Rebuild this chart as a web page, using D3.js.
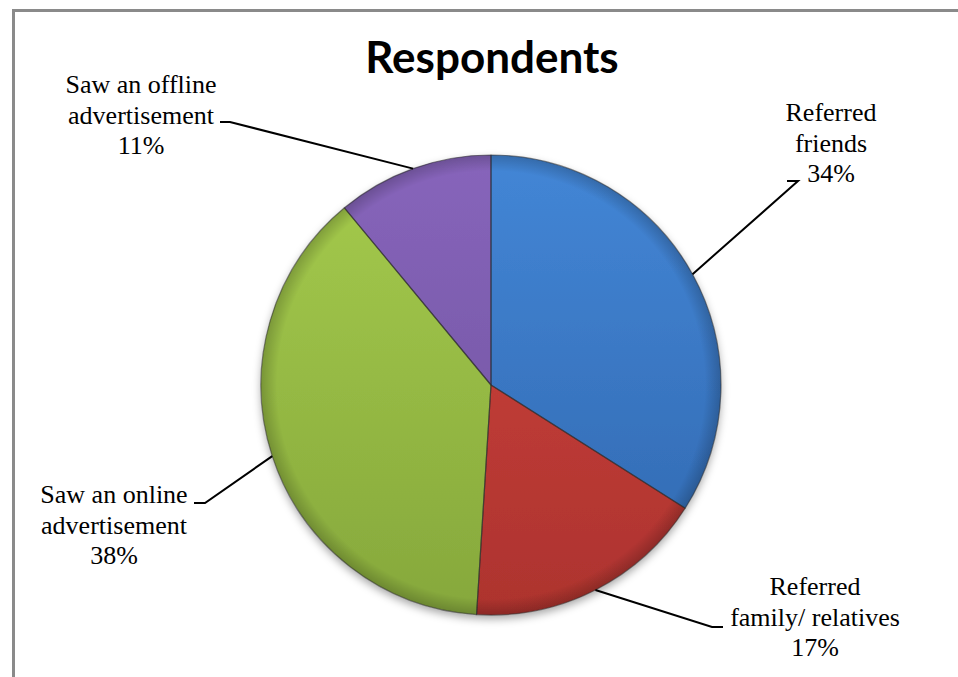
<!DOCTYPE html>
<html>
<head>
<meta charset="utf-8">
<script src="https://cdn.jsdelivr.net/npm/d3@7"></script>
<style>
  html, body { margin: 0; padding: 0; background: #fff; }
  svg { display: block; }
  .lbl { font-family: "Liberation Serif", "Times New Roman", Tinos, "DejaVu Serif", serif; font-size: 26px; }
  .ttl { font-family: Lato, "Open Sans", sans-serif; font-weight: 700; font-size: 44px; }
</style>
</head>
<body>
<svg id="chart" width="958" height="677"></svg>
<script>
// Survey: how respondents heard about us
const categories = [
  "Referred friends",
  "Referred family/ relatives",
  "Saw an online advertisement",
  "Saw an offline advertisement"
];
const values = [34, 17, 38, 11];
// label lines as they wrap inside each data label
const labelLines = [
  ["Referred", "friends", "34%"],
  ["Referred", "family/ relatives", "17%"],
  ["Saw an online", "advertisement", "38%"],
  ["Saw an offline", "advertisement", "11%"]
];
const title = "Respondents";

// slice colours: [light, dark] for the gradient of each slice
const sliceColors = [
  ["#4386d6", "#3067ae"],
  ["#d0443f", "#ad332e"],
  ["#a5cb4c", "#86a83c"],
  ["#8765bb", "#6d509c"]
];

// label placement: text centre x, first baseline y, leader knee (x, y) and tail end x
const labelLayout = [
  { cx: 831, y: 121, kneeX: 798, kneeY: 181, tailX: 787 },
  { cx: 815, y: 595, kneeX: 712, kneeY: 627, tailX: 723 },
  { cx: 114, y: 503, kneeX: 205, kneeY: 503, tailX: 194 },
  { cx: 141, y: 93,  kneeX: 230, kneeY: 122, tailX: 220 }
];

const W = 958, H = 677;
const cx = 491, cy = 385, R = 230;
const lineH = 30.5;

const svg = d3.select("#chart");
const defs = svg.append("defs");

// soft shadow under the pie
const shadow = defs.append("filter").attr("id", "shadow")
  .attr("x", "-20%").attr("y", "-20%").attr("width", "140%").attr("height", "140%");
shadow.append("feDropShadow")
  .attr("dx", 0).attr("dy", 4).attr("stdDeviation", 4)
  .attr("flood-color", "#000").attr("flood-opacity", 0.35);

sliceColors.forEach((c, i) => {
  const g = defs.append("linearGradient").attr("id", "grad" + i)
    .attr("gradientUnits", "userSpaceOnUse")
    .attr("x1", 0).attr("y1", -R).attr("x2", 0).attr("y2", R);
  g.append("stop").attr("offset", "0%").attr("stop-color", c[0]);
  g.append("stop").attr("offset", "100%").attr("stop-color", c[1]);
});

// rim shading for a bevelled look
const rim = defs.append("radialGradient").attr("id", "rim")
  .attr("gradientUnits", "userSpaceOnUse")
  .attr("cx", 0).attr("cy", 0).attr("r", R);
rim.append("stop").attr("offset", "0%").attr("stop-color", "#000").attr("stop-opacity", 0);
rim.append("stop").attr("offset", "93%").attr("stop-color", "#000").attr("stop-opacity", 0);
rim.append("stop").attr("offset", "100%").attr("stop-color", "#000").attr("stop-opacity", 0.2);

// outer frame of the chart area
svg.append("path")
  .attr("d", `M13.5,${H + 5} L13.5,10.5 L${W + 5},10.5`)
  .attr("fill", "none").attr("stroke", "#8a8a8a").attr("stroke-width", 3);

// title
svg.append("text")
  .attr("class", "ttl")
  .attr("x", 492).attr("y", 73)
  .attr("text-anchor", "middle")
  .attr("fill", "#000")
  .text(title);

const data = categories.map((name, i) => ({ name, value: values[i], i }));
const pie = d3.pie().sort(null).value(d => d.value);
const arcs = pie(data);
const arc = d3.arc().innerRadius(0).outerRadius(R);

const gPie = svg.append("g").attr("transform", `translate(${cx},${cy})`);
const gSlices = gPie.append("g").attr("filter", "url(#shadow)");

gSlices.selectAll("path.slice")
  .data(arcs)
  .join("path")
  .attr("class", "slice")
  .attr("d", arc)
  .attr("fill", d => `url(#grad${d.data.i})`);

gPie.append("circle")
  .attr("r", R)
  .attr("fill", "url(#rim)");

gPie.selectAll("path.edge")
  .data(arcs)
  .join("path")
  .attr("class", "edge")
  .attr("d", arc)
  .attr("fill", "none")
  .attr("stroke", "#2a2a2a")
  .attr("stroke-opacity", 0.55)
  .attr("stroke-width", 1.2)
  .attr("stroke-linejoin", "round");

// leader lines from each slice rim to its label
const rimArc = d3.arc().innerRadius(R).outerRadius(R);
const leaders = svg.append("g");
arcs.forEach(a => {
  const L = labelLayout[a.data.i];
  const [px, py] = rimArc.centroid(a);
  leaders.append("path")
    .attr("d", `M${cx + px},${cy + py} L${L.kneeX},${L.kneeY} L${L.tailX},${L.kneeY}`)
    .attr("fill", "none")
    .attr("stroke", "#000")
    .attr("stroke-width", 2);
});

// data labels
const gLabels = svg.append("g")
  .attr("fill", "#000")
  .attr("text-anchor", "middle");

data.forEach(d => {
  const L = labelLayout[d.i];
  const t = gLabels.append("text").attr("class", "lbl").attr("x", L.cx).attr("y", L.y);
  labelLines[d.i].forEach((line, j) => {
    t.append("tspan")
      .attr("x", L.cx)
      .attr("y", L.y + j * lineH)
      .text(line);
  });
});
</script>
</body>
</html>
